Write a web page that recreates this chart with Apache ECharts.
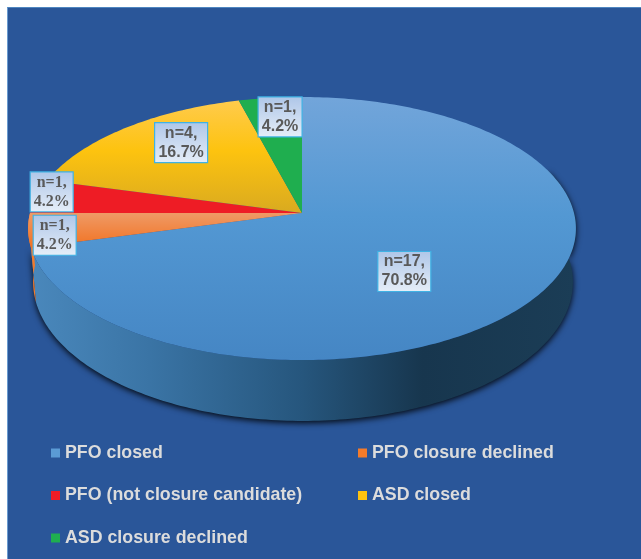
<!DOCTYPE html>
<html>
<head>
<meta charset="utf-8">
<style>
  html, body { margin: 0; padding: 0; background: #fff; overflow: hidden; }
  #bg { position: absolute; left: 7px; top: 7px; right: 0; bottom: 0; background: #2a5699; border-left: 1px solid #6a9bd0; border-top: 1px solid #4f86c0; }
  #main { position: absolute; left: 0; top: 0; width: 641px; height: 559px; }
</style>
<script src="https://cdn.jsdelivr.net/npm/echarts@6/dist/echarts.min.js"></script>
</head>
<body>
<div id="bg"></div>
<div id="main"></div>
<script>
const categories = ['PFO closed', 'PFO closure declined', 'PFO (not closure candidate)', 'ASD closed', 'ASD closure declined']
const counts = [17, 1, 1, 4, 1]
const percents = ['70.8%', '4.2%', '4.2%', '16.7%', '4.2%']

// slice look
const baseColors = ['#5b9bd5', '#f47b2a', '#ee1c25', '#fdc30f', '#1fae4f']
const topStops = [
  [[0, '#72a5da'], [0.45, '#5398d3'], [1, '#4586c4']],
  [[0, '#ef9a66'], [1, '#f26f1c']],
  [[0, '#ee1c25'], [1, '#ee1c25']],
  [[0, '#ffcb4d'], [0.45, '#fdc30f'], [1, '#d9aa20']],
  [[0, '#1fae4f'], [1, '#1fae4f']]
]
const labelFonts = ['Liberation Sans', 'Liberation Serif', 'Liberation Serif', 'Liberation Sans', 'Liberation Sans']
const labelWidths = [53, 43, 43, 53, 44]
// label box shift from the slice anchor point
const labelOffsets = [[-33, 9], [-84, 12], [-90, -11], [-11, -18], [-2, -24]]

// tilted disc, top rim and bottom rim: centre x, apex y, half width, half height
const topRim = { x: 302, y: 213, a: 272, b: 129.7 }
const lowRim = { x: 303, y: 265.6, a: 268, b: 137 }
const K = 0.118

const total = counts.reduce((a, b) => a + b, 0)
const starts = []
counts.reduce((sum, c, i) => { starts[i] = sum; return sum + c }, 0)

// angle is clockwise from 12 o'clock, in degrees
function project(deg, r, rim) {
  const t = deg * Math.PI / 180
  const u = Math.sin(t) * r
  const v = Math.cos(t) * r
  const w = 1 + K * v
  return [rim.x + rim.a * u / w, rim.y - rim.b * v / w]
}

function sliceAngles(i) {
  return [starts[i] / total * 360, (starts[i] + counts[i]) / total * 360]
}

function wallGradient() {
  return new echarts.graphic.LinearGradient(30, 0, 575, 0, [
    { offset: 0, color: '#4a88bc' },
    { offset: 0.22, color: '#3a74a5' },
    { offset: 0.5, color: '#26567d' },
    { offset: 0.72, color: '#17364e' },
    { offset: 1, color: '#1b3d56' }
  ], true)
}

function renderSlice(i) {
  const [a0, a1] = sliceAngles(i)
  const children = []

  // side wall, only the part that faces the viewer
  const w0 = Math.max(a0, 70)
  const w1 = Math.min(a1, 270)
  if (w1 > w0) {
    const rim = []
    const low = []
    for (let d = w0; d <= w1; d += 1) {
      rim.push(project(d, 1, topRim))
      low.unshift(project(d, 1, lowRim))
    }
    children.push({
      type: 'polygon',
      shape: { points: rim.concat(low) },
      style: i === 0 ? {
        fill: wallGradient(),
        shadowBlur: 6,
        shadowColor: 'rgba(0,0,0,0.9)',
        shadowOffsetY: 2
      } : { fill: baseColors[i] }
    })
  }

  // top face
  const pts = [[topRim.x, topRim.y]]
  for (let d = a0; d < a1; d += 1) pts.push(project(d, 1, topRim))
  pts.push(project(a1, 1, topRim))
  children.push({
    type: 'polygon',
    shape: { points: pts },
    style: {
      fill: new echarts.graphic.LinearGradient(0, i === 0 ? 97 : (i === 3 ? 100 : 213), 0, i === 0 ? 360 : (i === 3 ? 213 : 250),
        topStops[i].map(s => ({ offset: s[0], color: s[1] })), true)
    }
  })
  return { type: 'group', children }
}

function renderLabel(params, api) {
  const i = api.value(0)
  const [a0, a1] = sliceAngles(i)
  const p = project((a0 + a1) / 2, 0.6, topRim)
  const cx = p[0] + labelOffsets[i][0]
  const cy = p[1] + labelOffsets[i][1]
  const w = labelWidths[i]
  const h = 40
  return {
    type: 'group',
    children: [
      {
        type: 'rect',
        shape: { x: cx - w / 2, y: cy - h / 2, width: w, height: h },
        style: {
          fill: new echarts.graphic.LinearGradient(0, 0, 0, 1, [
            { offset: 0, color: '#aec6e8' },
            { offset: 1, color: '#e6eef8' }
          ]),
          stroke: '#3fb2e4',
          lineWidth: 1.2
        }
      },
      {
        type: 'text',
        style: {
          x: cx,
          y: cy,
          text: 'n=' + counts[i] + ',\n' + percents[i],
          align: 'center',
          verticalAlign: 'middle',
          fill: '#595959',
          font: 'bold 16px "' + labelFonts[i] + '"',
          lineHeight: 19
        }
      }
    ]
  }
}

const series = categories.map((name, i) => ({
  name: name,
  type: 'custom',
  coordinateSystem: 'none',
  silent: true,
  itemStyle: { color: baseColors[i] },
  data: [[counts[i]]],
  renderItem: () => renderSlice(i)
}))

series.push({
  type: 'custom',
  coordinateSystem: 'none',
  silent: true,
  z: 5,
  data: categories.map((c, i) => [i]),
  renderItem: renderLabel
})

const legendBase = {
  orient: 'vertical',
  icon: 'rect',
  itemWidth: 9,
  itemHeight: 9,
  itemGap: 24.5,
  selectedMode: false,
  textStyle: { color: '#dcdcdc', fontFamily: 'Liberation Sans', fontWeight: 'bold', fontSize: 17.8 }
}

var myChart = echarts.init(document.getElementById('main'))
myChart.setOption({
  animation: false,
  legend: [
    Object.assign({}, legendBase, { left: 46, top: 439, data: [categories[0], categories[2], categories[4]] }),
    Object.assign({}, legendBase, { left: 353, top: 439, data: [categories[1], categories[3]] })
  ],
  series: series
})
</script>
</body>
</html>
